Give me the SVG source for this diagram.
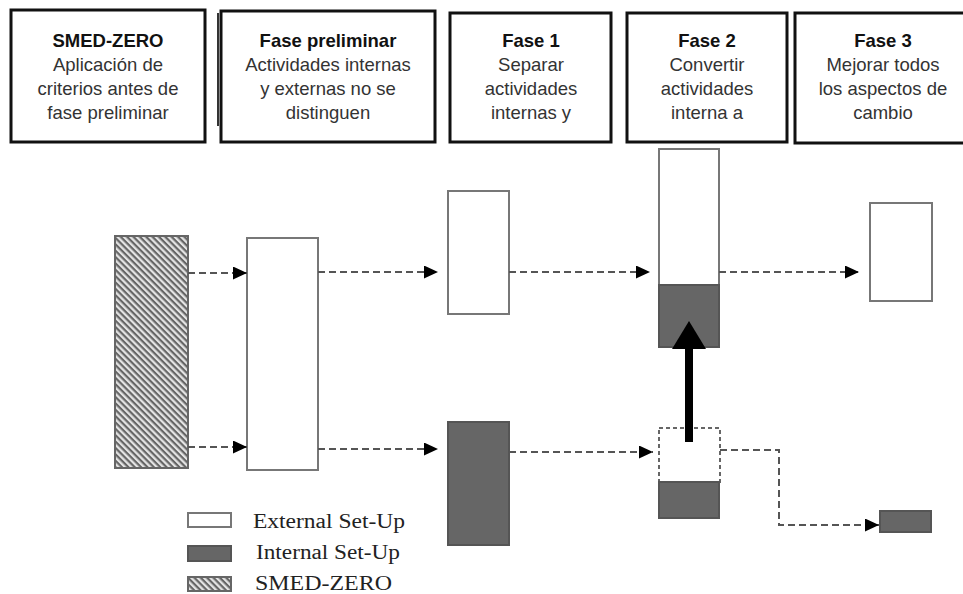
<svg xmlns="http://www.w3.org/2000/svg" width="963" height="594" viewBox="0 0 963 594">
<style>
.hdr{fill:#fff;stroke:#111;stroke-width:3}
.tt{font-family:"Liberation Sans",Arial,sans-serif;font-size:18.5px;text-anchor:middle;fill:#333}
.tb{font-weight:bold;fill:#111}
.ext{fill:#fff;stroke:#777;stroke-width:2}
.int{fill:#666;stroke:#555;stroke-width:2}
.hat{fill:url(#hatch);stroke:#666;stroke-width:2}
.dash{fill:none;stroke:#555;stroke-width:2;stroke-dasharray:7 4}
.leg{font-family:"Liberation Serif","Times New Roman",serif;font-size:20px;fill:#222}
</style>
<defs>
<pattern id="hatch" patternUnits="userSpaceOnUse" width="4.5" height="4.5" patternTransform="rotate(45)">
<rect width="4.5" height="4.5" fill="#e4e4e4"/>
<rect width="4.5" height="2.2" fill="#666"/>
</pattern>
<marker id="ah" markerUnits="userSpaceOnUse" markerWidth="14" markerHeight="13" refX="14" refY="6.5" orient="auto">
<path d="M0,0 L14,6.5 L0,13 z" fill="#000"/>
</marker>
</defs>
<rect width="963" height="594" fill="#fff"/>

<g id="hdr-smedzero">
<rect class="hdr" x="11" y="10" width="194" height="132"/>
<text class="tt tb" x="108" y="47">SMED-ZERO</text>
<text class="tt" x="108" y="71">Aplicación de</text>
<text class="tt" x="108" y="95">criterios antes de</text>
<text class="tt" x="108" y="119">fase preliminar</text>
</g>
<g id="hdr-preliminar">
<line x1="218" y1="13" x2="218" y2="126" stroke="#333" stroke-width="2"/>
<rect class="hdr" x="221" y="11" width="214" height="131"/>
<text class="tt tb" x="328" y="47">Fase preliminar</text>
<text class="tt" x="328" y="71">Actividades internas</text>
<text class="tt" x="328" y="95">y externas no se</text>
<text class="tt" x="328" y="119">distinguen</text>
</g>
<g id="hdr-fase1">
<rect class="hdr" x="450" y="13" width="161" height="129"/>
<text class="tt tb" x="531" y="47">Fase 1</text>
<text class="tt" x="531" y="71">Separar</text>
<text class="tt" x="531" y="95">actividades</text>
<text class="tt" x="531" y="119">internas y</text>
</g>
<g id="hdr-fase2">
<rect class="hdr" x="627" y="13" width="160" height="129"/>
<text class="tt tb" x="707" y="47">Fase 2</text>
<text class="tt" x="707" y="71">Convertir</text>
<text class="tt" x="707" y="95">actividades</text>
<text class="tt" x="707" y="119">interna a</text>
</g>
<g id="hdr-fase3">
<rect class="hdr" x="795" y="13" width="172" height="130"/>
<text class="tt tb" x="883" y="47">Fase 3</text>
<text class="tt" x="883" y="71">Mejorar todos</text>
<text class="tt" x="883" y="95">los aspectos de</text>
<text class="tt" x="883" y="119">cambio</text>
</g>

<g id="n-smedzero"><rect class="hat" x="115" y="236" width="73" height="232"/></g>
<g id="n-prelim"><rect class="ext" x="247" y="238" width="71" height="232"/></g>
<g id="n-f1-ext"><rect class="ext" x="448" y="191" width="61" height="123"/></g>
<g id="n-f1-int"><rect class="int" x="448" y="422" width="61" height="123"/></g>
<g id="n-f2-top">
<rect class="ext" x="659" y="149" width="60" height="136"/>
<rect class="int" x="659" y="285" width="60" height="62"/>
</g>
<g id="n-f2-bottom">
<rect x="659" y="428" width="61" height="54" fill="none" stroke="#666" stroke-width="2" stroke-dasharray="4 3"/>
<rect class="int" x="659" y="482" width="60" height="36"/>
</g>
<g id="n-f3-ext"><rect class="ext" x="870" y="203" width="62" height="98"/></g>
<g id="n-f3-int"><rect class="int" x="880" y="511" width="51" height="21"/></g>

<g id="connectors">
<line class="dash" x1="188" y1="273" x2="247" y2="273" marker-end="url(#ah)"/>
<line class="dash" x1="188" y1="447" x2="247" y2="447" marker-end="url(#ah)"/>
<line class="dash" x1="318" y1="272" x2="438" y2="272" marker-end="url(#ah)"/>
<line class="dash" x1="318" y1="449" x2="438" y2="449" marker-end="url(#ah)"/>
<line class="dash" x1="509" y1="272" x2="650" y2="272" marker-end="url(#ah)"/>
<line class="dash" x1="509" y1="452" x2="653" y2="452" marker-end="url(#ah)"/>
<line class="dash" x1="719" y1="272" x2="859" y2="272" marker-end="url(#ah)"/>
<path class="dash" d="M720,450 H779 V525 H879" marker-end="url(#ah)"/>
<line x1="689" y1="442" x2="689" y2="345" stroke="#000" stroke-width="8"/>
<polygon points="689,321 672,349 706,349" fill="#000"/>
</g>

<g id="legend">
<rect class="ext" x="188" y="513" width="43" height="14"/>
<rect class="int" x="188" y="546" width="43" height="15"/>
<rect class="hat" x="188" y="577" width="43" height="14"/>
<text class="leg" x="253" y="528" textLength="152" lengthAdjust="spacingAndGlyphs">External Set-Up</text>
<text class="leg" x="256" y="559" textLength="144" lengthAdjust="spacingAndGlyphs">Internal Set-Up</text>
<text class="leg" x="255" y="590" textLength="137" lengthAdjust="spacingAndGlyphs">SMED-ZERO</text>
</g>
</svg>
